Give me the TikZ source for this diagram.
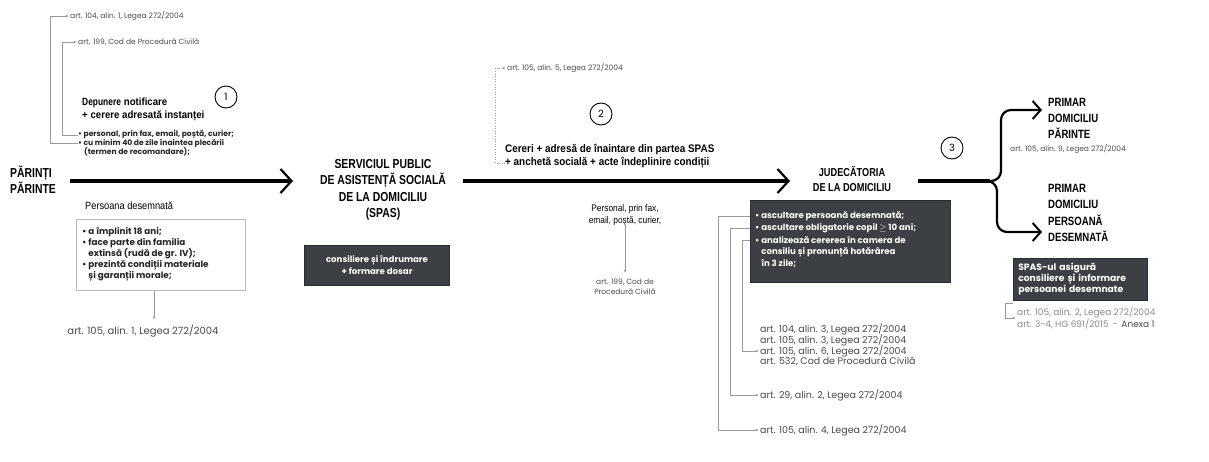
\documentclass[tikz,border=0pt]{standalone}
\usepackage{fontspec}
\usepackage{graphicx}
\setmainfont{Poppins}
\newfontfamily\hdfont{Liberation Sans}
\usetikzlibrary{arrows.meta,calc}
\definecolor{boxdark}{HTML}{3C3F43}
\definecolor{arttxt}{HTML}{4A4A4A}
\definecolor{artlight}{HTML}{8A8A8A}
\definecolor{linegray}{HTML}{9A9A9A}
\newcommand{\hdl}[1]{\scalebox{0.8}[1]{#1}}
\newcommand{\hdw}[1]{\scalebox{0.92}[1]{#1}}
\newcommand{\cnd}[1]{\scalebox{0.88}[1]{#1}}
\tikzset{
  art/.style={font=\fontsize{7.5}{10}\selectfont, text=arttxt, inner sep=0pt, anchor=west, align=left},
  bigart/.style={art, font=\fontsize{9.5}{11}\selectfont},
  head/.style={font=\hdfont\bfseries\fontsize{13}{16.5}\selectfont, inner sep=0pt, align=center},
  subhead/.style={font=\hdfont\bfseries\fontsize{10.5}{13}\selectfont, inner sep=0pt, anchor=west, align=left},
  bul/.style={font=\bfseries\fontsize{7.6}{8.5}\selectfont, text=black!85, inner sep=0pt, anchor=west, align=left},
  darkbox/.style={fill=boxdark, draw=boxdark!70!black, line width=0.6pt, text=white, font=\bfseries\fontsize{8.6}{11.5}\selectfont, inner sep=5pt},
  wtxt/.style={text=white, font=\bfseries\fontsize{8.6}{10}\selectfont, inner sep=0pt, anchor=west},
  lbox/.style={draw=gray!55, line width=0.8pt},
  numc/.style={circle, draw, line width=0.9pt, minimum size=22pt, inner sep=0pt, font=\fontsize{10}{10}\selectfont},
  bracket/.style={draw=linegray, line width=0.6pt, -{Stealth[length=3pt,width=2.6pt]}, shorten >=1.5pt},
  dotbracket/.style={bracket, dotted},
  mainarrow/.style={line width=3.6pt, -{Straight Barb[length=11pt,width=24pt,line width=2.2pt]}},
  thickline/.style={line width=3.6pt},
  branch/.style={line width=2.2pt, rounded corners=10pt, -{Straight Barb[length=8pt,width=18pt,line width=2pt]}},
}
\begin{document}
\begin{tikzpicture}[x=1pt,y=-1pt]
\useasboundingbox (0,0) rectangle (1209,462);

% ---------- left: parents ----------
\node[art] (a104) at (70,16) {art. 104, alin. 1, Legea 272/2004};
\node[art] (a199) at (78,42) {art. 199, Cod de Procedură Civilă};
\node[subhead] (dep1) at (82,103) {\hdl{Depunere} \hdw{notificare}};
\node[subhead] (dep2) at (82,116) {\hdw{+ cerere adresată instanței}};
\node[numc] (c1) at (226,97) {1};
\node[bul] (bl1) at (78,135) {• personal, prin fax, email, poștă, curier;};
\node[bul] (bl2) at (78,143.5) {• cu minim 40 de zile înaintea plecării};
\node[bul] (bl3) at (84,152) {(termen de recomandare);};
\draw[bracket] (bl2.west) -- ++(-28,0) |- (a104.west);
\draw[bracket] (bl1.west) -- ++(-16,0) |- (a199.west);

\node[head, anchor=west, align=left] (par) at (10,180) {\hdl{PĂRINȚI}\\\hdl{PĂRINTE}};
\coordinate (a1s) at (70,181);
\coordinate (a1e) at (293,181);
\draw[mainarrow] (a1s) -- (a1e);

\node[anchor=west, inner sep=0pt, font=\hdfont\fontsize{10.5}{12}\selectfont] (pd) at (85,206) {\cnd{Persoana desemnată}};
\node[lbox, anchor=north west, minimum width=169pt, minimum height=71pt] (pdbox) at (76,219) {};
\node[bul, font=\bfseries\fontsize{8.8}{11}\selectfont] (pdt) at (82,254.5) {• a împlinit 18 ani;\\• face parte din familia\\\phantom{• }extinsă (rudă de gr. IV);\\• prezintă condiții materiale\\\phantom{• }și garanții morale;};
\node[art, anchor=center, align=center, font=\fontsize{10}{11}\selectfont] (a105a1) at (143,331) {art. 105, alin. 1, Legea 272/2004};
\draw[bracket] ([xshift=-7pt]pdbox.south) -- ([xshift=-7pt,yshift=4pt]pdbox.south |- a105a1.north);

% ---------- SPAS ----------
\node[head] (spas) at (383,190) {\hdl{SERVICIUL PUBLIC}\\\hdl{DE ASISTENȚĂ SOCIALĂ}\\\hdl{DE LA DOMICILIU}\\\hdl{(SPAS)}};
\node[darkbox, align=center, minimum width=145pt, minimum height=40pt] (spasbox) at (377,265) {consiliere și îndrumare\\+ formare dosar};

\coordinate (a2s) at (463,181);
\coordinate (a2e) at (790,181);
\draw[mainarrow] (a2s) -- (a2e);

\node[art] (a105a5) at (507,68) {art. 105, alin. 5, Legea 272/2004};
\node[numc] (c2) at (601,114) {2};
\node[subhead, font=\hdfont\bfseries\fontsize{11}{13}\selectfont] (cer1) at (505,150) {\scalebox{0.9}[1]{\textbf{Cereri} + adresă de înaintare din partea SPAS}};
\node[subhead, font=\hdfont\bfseries\fontsize{11}{13}\selectfont] (cer2) at (505,163) {\scalebox{0.9}[1]{+ anchetă socială + acte îndeplinire condiții}};
\draw[dotbracket] (cer2.west) -- ++(-10,0) |- (a105a5.west);

\node[inner sep=0pt, align=center, font=\hdfont\fontsize{9.5}{11.5}\selectfont] (pers) at (625,215) {\cnd{Personal, prin fax,}\\\cnd{email, poștă, curier,}};
\node[art, anchor=center, align=center] (a199b) at (625,287) {art. 199, Cod de\\Procedură Civilă};
\draw[bracket] (pers.south) -- ([yshift=5pt]a199b.north);

% ---------- Judecatoria ----------
\node[head, font=\hdfont\bfseries\fontsize{11.5}{15}\selectfont] (jud) at (852,179) {\hdl{JUDECĂTORIA}\\\hdl{DE LA DOMICILIU}};
\node[numc] (c3) at (952,148) {3};
\node[darkbox, anchor=north west, minimum width=200pt, minimum height=82pt] (jbox) at (750,200) {};
\node[wtxt] (jb1) at (755,216) {• ascultare persoană desemnată;};
\node[wtxt] (jb2) at (755,228) {• ascultare obligatorie copil $\geq$ 10 ani;};
\node[wtxt] (jb3) at (755,240) {• analizează cererea în camera de};
\node[wtxt] (jb4) at (755,252) {\phantom{• }consiliu și pronunță hotărârea};
\node[wtxt] (jb5) at (755,264) {\phantom{• }în 3 zile;};

\node[bigart] (ag1) at (760,329) {art. 104, alin. 3, Legea 272/2004};
\node[bigart] (ag2) at (760,340) {art. 105, alin. 3, Legea 272/2004};
\node[bigart] (ag3) at (760,351) {art. 105, alin. 6, Legea 272/2004};
\node[bigart] (ag4) at (760,362) {art. 532, Cod de Procedură Civilă};
\node[bigart] (a29) at (760,395) {art. 29, alin. 2, Legea 272/2004};
\node[bigart] (a105a4) at (760,430) {art. 105, alin. 4, Legea 272/2004};
\draw[bracket] (jbox.west |- jb1.west) -- ++(-32,0) |- (a105a4.west);
\draw[bracket] (jbox.west |- jb2.west) -- ++(-20,0) |- (a29.west);
\draw[bracket] (jbox.west |- jb3.west) -- ++(-8,0) |- (ag3.west);

% ---------- right ----------
\coordinate (a3s) at (918,181);
\coordinate (fork) at (990,181);
\coordinate (up) at (1042,110);
\coordinate (dn) at (1042,232);
\draw[thickline] (a3s) -- (fork);
\draw[branch] (fork) -- (1001,181) |- (up);
\draw[branch] (fork) -- (997,181) |- (dn);

\node[head, anchor=west, align=left, font=\hdfont\bfseries\fontsize{12}{16}\selectfont] (pp) at (1048,118) {\hdl{PRIMAR}\\\hdl{DOMICILIU}\\\hdl{PĂRINTE}};
\node[art] (a105a9) at (1010,149) {art. 105, alin. 9, Legea 272/2004};
\node[head, anchor=west, align=left, font=\hdfont\bfseries\fontsize{12}{16.5}\selectfont] (ppd) at (1048,213) {\hdl{PRIMAR}\\\hdl{DOMICILIU}\\\hdl{PERSOANĂ}\\\hdl{DESEMNATĂ}};
\node[darkbox, anchor=north west, align=left, text width=124pt, minimum height=42pt, font=\bfseries\fontsize{9.2}{11}\selectfont] (rbox) at (1013,258) {SPAS-ul asigură\\consiliere și informare\\persoanei desemnate};
\node[art, text=artlight, font=\fontsize{9}{10.5}\selectfont] (ra) at (1017,318) {art. 105, alin. 2, Legea 272/2004\\art. 3-4, HG 691/2015 \,-\, \textcolor{arttxt}{Anexa 1}};
\draw[bracket] ([yshift=-3pt]rbox.south west) -- ++(-8,0) |- (ra.west);
\end{tikzpicture}
\end{document}
